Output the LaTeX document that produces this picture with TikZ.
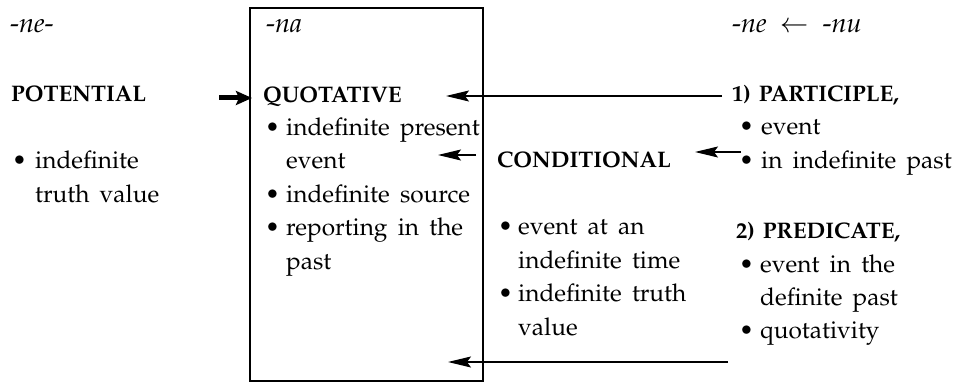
\documentclass[tikz,border=0pt]{standalone}
\usepackage[T1]{fontenc}
\usepackage{mathpazo}
\usetikzlibrary{arrows.meta}
\newcommand\wideTxt{\fontsize{24.4}{28}\selectfont\spaceskip=0.42em plus 0.1em\relax}
\newcommand\wideHdr{\fontsize{22.5}{26}\selectfont\bfseries\spaceskip=0.35em plus 0.1em\relax}
\begin{document}
\begin{tikzpicture}[x=1pt,y=-1pt,
  txt/.style={anchor=base west,inner sep=0pt,font=\wideTxt},
  hdr/.style={anchor=base west,inner sep=0pt,font=\wideHdr},
  ttl/.style={anchor=base west,inner sep=0pt,font=\fontsize{27}{30}\selectfont},
  thin/.style={line width=1.2pt,-{Stealth[length=23pt,width=11pt,inset=4pt]}},
  thick/.style={line width=5pt,-{Stealth[length=16pt,width=14pt,inset=3pt]}},
  boxline/.style={line width=1.8pt}]
\useasboundingbox (0,0) rectangle (962,385);
% box
\draw[boxline] (250,8) rectangle (483,381);
% titles
\node[ttl] (t1) at (10,33) {-\textit{ne}-};
\node[ttl] (t2) at (266,33) {-\textit{na}};
\node[ttl] (t3) at (732,33) {-\textit{ne}\enspace$\leftarrow$\enspace-\textit{nu}};
% left column
\node[hdr] (pot) at (11,102) {POTENTIAL};
\node[txt] (lb1) at (12,169) {\textbullet};
\node[txt] (l1) at (35,169) {indefinite};
\node[txt] (l2) at (35,202.5) {truth value};
% box column
\node[hdr] (quot) at (263,103) {QUOTATIVE};
\node[txt] (qb1) at (265,135.5) {\textbullet};
\node[txt] (q1) at (286,135.5) {indefinite present};
\node[txt] (q2) at (286,169) {event};
\node[txt] (qb2) at (265,202.5) {\textbullet};
\node[txt] (q3) at (286,202.5) {indefinite source};
\node[txt] (qb3) at (265,236) {\textbullet};
\node[txt] (q4) at (286,236) {reporting in the};
\node[txt] (q5) at (286,269.5) {past};
% middle column
\node[hdr] (cond) at (497,168) {CONDITIONAL};
\node[txt] (cb1) at (498,234) {\textbullet};
\node[txt] (c1) at (518,234) {event at an};
\node[txt] (c2) at (518,268) {indefinite time};
\node[txt] (cb2) at (498,301) {\textbullet};
\node[txt] (c3) at (518,301) {indefinite truth};
\node[txt] (c4) at (518,335) {value};
% right column
\node[hdr] (part) at (732,101.5) {1) PARTICIPLE,};
\node[txt] (pb1) at (739,135) {\textbullet};
\node[txt] (p1) at (761,135) {event};
\node[txt] (pb2) at (739,168.5) {\textbullet};
\node[txt] (p2) at (761,168.5) {in indefinite past};
\node[hdr] (pred) at (736,239) {2) PREDICATE,};
\node[txt] (rb1) at (739,272) {\textbullet};
\node[txt] (r1) at (760,272) {event in the};
\node[txt] (r2) at (760,305) {definite past};
\node[txt] (rb2) at (739,338) {\textbullet};
\node[txt] (r3) at (760,338) {quotativity};
% connector ends
\coordinate (a1s) at (219,98);  \coordinate (a1e) at (252,98);
\coordinate (a2s) at (722,96);  \coordinate (a2e) at (446,96);
\coordinate (a3s) at (741,152); \coordinate (a3e) at (695,152);
\coordinate (a4s) at (476,155); \coordinate (a4e) at (438,155);
\coordinate (a5s) at (728,362); \coordinate (a5e) at (448,362);
\draw[thick] (a1s) -- (a1e);
\draw[thin] (a2s) -- (a2e);
\draw[thin] (a3s) -- (a3e);
\draw[thin] (a4s) -- (a4e);
\draw[thin] (a5s) -- (a5e);
\end{tikzpicture}
\end{document}
